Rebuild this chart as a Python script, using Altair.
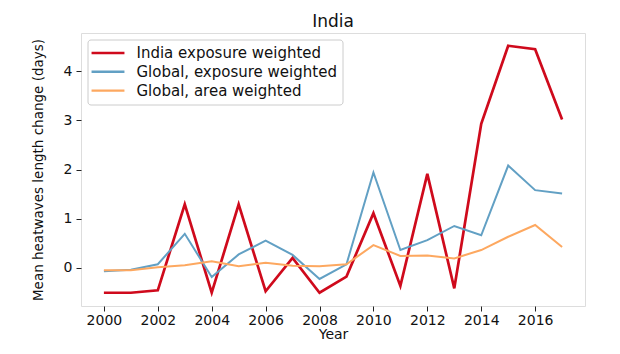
import altair as alt
import pandas as pd

years = list(range(2000, 2018))
india_exposure = [-0.51, -0.51, -0.46, 1.29, -0.51, 1.29, -0.48, 0.20, -0.51, -0.18,
                  1.11, -0.37, 1.91, -0.42, 2.93, 4.52, 4.45, 3.02]
global_exposure = [-0.07, -0.04, 0.07, 0.69, -0.19, 0.27, 0.55, 0.26, -0.23, 0.07,
                   1.94, 0.36, 0.56, 0.85, 0.66, 2.08, 1.58, 1.51]
global_area = [-0.05, -0.05, 0.01, 0.05, 0.13, 0.03, 0.10, 0.04, 0.03, 0.07,
               0.46, 0.24, 0.25, 0.19, 0.36, 0.63, 0.87, 0.42]

series_names = ["India exposure weighted", "Global, exposure weighted", "Global, area weighted"]
series_colors = ["#cf0a1c", "#62a0c4", "#fda860"]
series_widths = [2.7, 2.0, 2.0]
x_ticks = list(range(2000, 2017, 2))
y_ticks = [0, 1, 2, 3, 4]

rows = []
for name, vals in zip(series_names, [india_exposure, global_exposure, global_area]):
    for y, v in zip(years, vals):
        rows.append({"Year": y, "value": v, "series": name})
df = pd.DataFrame(rows)

FONT = "DejaVu Sans"
W, H = 504, 273

color = alt.Color(
    "series:N",
    scale=alt.Scale(domain=series_names, range=series_colors),
    legend=alt.Legend(
        title=None,
        orient="none",
        legendX=6.5,
        legendY=6.5,
        symbolType="M-2.35,0H2.35",
        symbolSize=196,
        symbolStrokeWidth=2.4,
        symbolOffset=7,
        labelFontSize=15,
        labelFont=FONT,
        labelColor="#111",
        labelOffset=20,
        labelLimit=400,
        rowPadding=1.8,
        padding=5,
        strokeColor="#cccccc",
        fillColor="rgba(255,255,255,0.8)",
        cornerRadius=3,
    ),
)

x = alt.X(
    "Year:Q",
    scale=alt.Scale(domain=[1999.15, 2017.85], nice=False, zero=False),
    axis=alt.Axis(values=x_ticks, format="d", title="Year", grid=False,
                  domain=False, tickSize=5, tickColor="#222", labelPadding=2,
                  labelFontSize=14, titleFontSize=14, titleFontWeight="normal",
                  titlePadding=0, labelFont=FONT, titleFont=FONT,
                  labelColor="#111", titleColor="#111"),
)
y = alt.Y(
    "value:Q",
    scale=alt.Scale(domain=[-0.78, 4.78], nice=False, zero=False),
    axis=alt.Axis(values=y_ticks, title="Mean heatwaves length change (days)", grid=False,
                  domain=False, tickSize=5, tickColor="#222", labelPadding=4,
                  labelFontSize=14, titleFontSize=13.5, titleFontWeight="normal",
                  labelFont=FONT, titleFont=FONT, labelColor="#111", titleColor="#111",
                  titleX=-43, titleY=H / 2, titleAngle=-90, titleAlign="center",
                  titleBaseline="middle"),
)

layers = []
for name, w in zip(series_names, series_widths):
    layers.append(
        alt.Chart(df)
        .transform_filter(alt.datum.series == name)
        .mark_line(strokeWidth=w, clip=True)
        .encode(x=x, y=y, color=color)
    )

chart = (
    alt.layer(*layers)
    .properties(
        width=W,
        height=H,
        title=alt.TitleParams("India", fontSize=17, font=FONT, fontWeight="normal",
                              color="#111", offset=2),
        autosize=alt.AutoSizeParams(type="none"),
        padding={"left": 81, "top": 33, "right": 35, "bottom": 48},
    )
    .configure_view(stroke="#222", strokeWidth=1.5)
    .configure(background="white")
)

chart.save("out.html", embed_options={"renderer": "svg", "actions": False})
